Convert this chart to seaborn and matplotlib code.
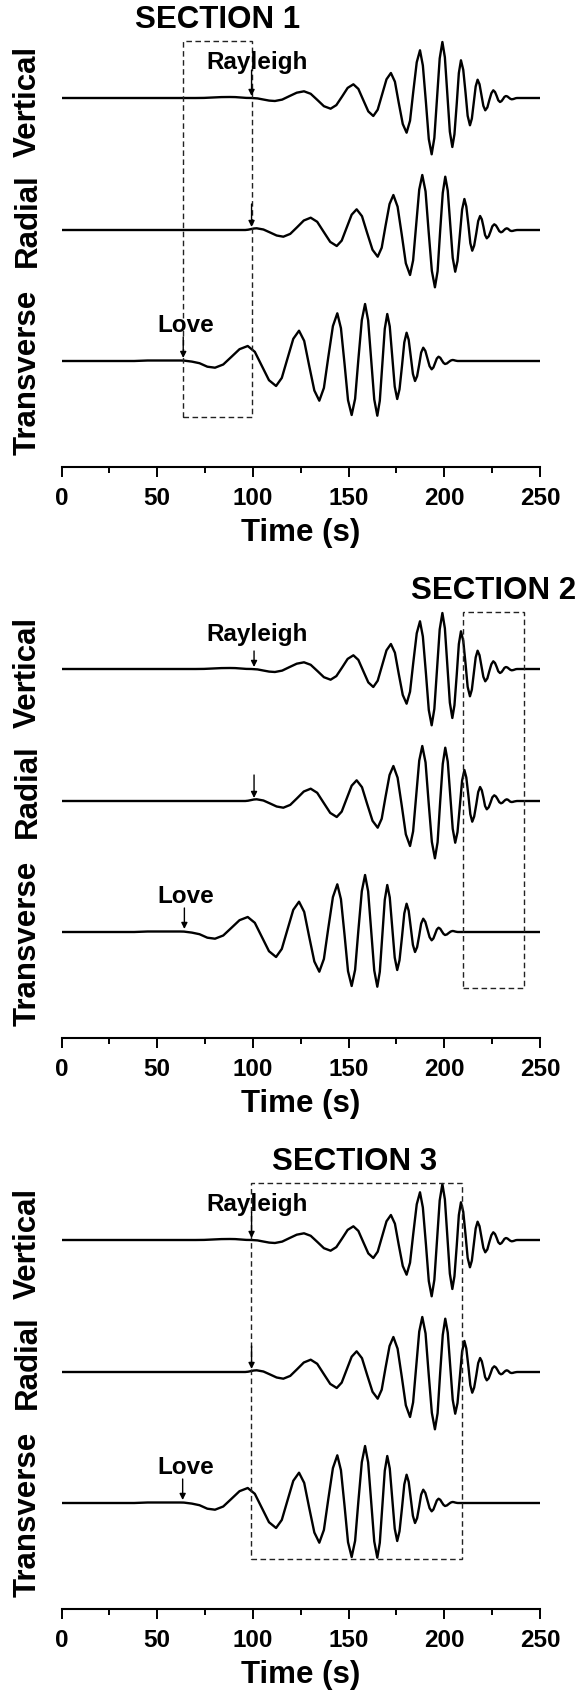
import numpy as np
import pandas as pd
import matplotlib
matplotlib.use("Agg")
import matplotlib.pyplot as plt
import seaborn as sns
from matplotlib.patches import Rectangle

sns.set_style("ticks")
plt.rcParams["font.family"] = ["Liberation Sans", "DejaVu Sans"]
plt.rcParams["font.weight"] = "bold"
plt.rcParams["lines.solid_joinstyle"] = "round"
plt.rcParams["lines.solid_capstyle"] = "round"
plt.rcParams["text.color"] = "black"
plt.rcParams["axes.labelcolor"] = "black"
plt.rcParams["axes.edgecolor"] = "black"
plt.rcParams["xtick.color"] = "black"

# ---------------- data ----------------
COMPONENTS = ["Vertical", "Radial", "Transverse"]

# Vertical component: time (s) and amplitude (px-like units)
V_TIME = [0, 70, 74.5, 79, 83.5, 88, 90.8, 93.7, 96.5, 99.3, 102.4, 105.4, 108.5, 111.5,
          115.3, 119.1, 122.9, 126.7, 130.2, 133.7, 137.1, 140.6, 143.6, 146.6, 149.5, 152.5,
          155.1, 157.7, 160.3, 162.9, 165.2, 167.5, 169.8, 172.1, 174.2, 176.2, 178.3, 180.3,
          182.1, 183.8, 185.6, 187.3, 188.8, 190.4, 191.9, 193.4, 194.8, 196.2, 197.6, 199.0,
          200.3, 201.6, 202.9, 204.2, 205.3, 206.5, 207.6, 208.7, 209.9, 211.1, 212.2, 213.4,
          214.4, 215.4, 216.4, 217.4, 218.4, 219.4, 220.4, 221.4, 222.5, 223.5, 224.6, 225.6,
          226.5, 227.4, 228.2, 229.1, 229.9, 230.7, 231.4, 232.2, 233.0, 233.7, 234.5, 235.2,
          235.9, 236.6, 237.3, 238, 250]
V_AMP = [0, 0, 0.1, 0.5, 0.9, 1, 0.9, 0.5, 0.1, 0, -0.4, -1.5, -2.6, -3,
         -1.6, 1.9, 5.3, 6.7, 4.2, -2.0, -8.2, -10.7, -7.1, 1.5, 10.1, 13.7,
         9.1, -2.2, -13.4, -18, -11.7, 3.5, 18.7, 25, 16.3, -4.9, -26.0, -34.7,
         -22.7, 6.5, 35.7, 47.7, 32.5, -4.3, -41.1, -56.3, -39.9, -0.2, 39.6, 56,
         40.7, 3.5, -33.7, -49, -36.3, -5.7, 25.0, 37.7, 28.2, 5.2, -17.8, -27.3,
         -20.6, -4.5, 11.6, 18.3, 13.8, 3.0, -7.8, -12.3, -9.4, -2.3, 4.8, 7.7,
         6.0, 1.9, -2.3, -4, -3.1, -1.0, 1.1, 2, 1.5, 0.4, -0.8, -1.3,
         -1.1, -0.7, -0.2, 0, 0]

# Radial component
R_TIME = [0, 96, 97.5, 99.0, 100.5, 102.0, 105.5, 109.0, 112.4, 115.9, 119.5, 123.1, 126.6,
          130.2, 133.6, 137.0, 140.4, 143.8, 146.4, 149.0, 151.6, 154.2, 157.0, 159.7, 162.5,
          165.2, 167.3, 169.3, 171.4, 173.4, 175.6, 177.8, 179.9, 182.1, 183.7, 185.3, 186.9,
          188.5, 190.2, 191.8, 193.5, 195.1, 196.5, 197.8, 199.2, 200.5, 201.8, 203.1, 204.4,
          205.7, 206.9, 208.1, 209.3, 210.5, 211.5, 212.6, 213.6, 214.6, 215.6, 216.7, 217.7,
          218.7, 219.6, 220.5, 221.3, 222.2, 223.2, 224.2, 225.1, 226.1, 227.0, 227.9, 228.7,
          229.6, 230.4, 231.1, 231.9, 232.6, 233.2, 233.8, 234.4, 235.0, 235.8, 236.5, 237.3,
          238.0, 250]
R_AMP = [0, 0, 0.3, 0.9, 1.5, 1.7, 0.5, -2.5, -5.5, -6.7, -3.9, 2.8, 9.5,
         12.3, 8.2, -1.9, -11.9, -16, -10.6, 2.4, 15.3, 20.7, 13.8, -3.0, -19.8,
         -26.7, -17.7, 4.2, 26.0, 35, 23.3, -5.0, -33.3, -45, -30.4, 5.0, 40.4,
         55, 38.6, -1.2, -40.9, -57.3, -41.2, -2.0, 37.1, 53.3, 39.4, 5.8, -27.8,
         -41.7, -31.1, -5.4, 20.4, 31, 23.5, 5.2, -13.2, -20.7, -15.6, -3.4, 8.9,
         14, 10.7, 2.9, -5.0, -8.3, -6.3, -1.3, 3.7, 5.7, 4.5, 1.7, -1.1,
         -2.3, -1.7, -0.3, 1.1, 1.7, 1.3, 0.4, -0.6, -1.0, -0.9, -0.5, -0.2,
         0, 0]

# Transverse component
T_TIME = [0, 38, 45, 62, 64, 68.1, 72.1, 76.2, 80.2, 84.5, 88.8, 93.0, 97.3, 101.0, 104.7,
          108.4, 112.1, 115.1, 118.1, 121.1, 124.1, 126.8, 129.4, 132.1, 134.7, 137.1, 139.4,
          141.8, 144.1, 146.0, 147.9, 149.7, 151.6, 153.4, 155.1, 156.9, 158.6, 160.2, 161.8,
          163.4, 165.0, 166.3, 167.6, 168.9, 170.2, 171.5, 172.8, 174.1, 175.4, 176.6, 177.9,
          179.1, 180.3, 181.4, 182.5, 183.6, 184.7, 185.8, 186.9, 187.9, 189.0, 190.1, 191.2,
          192.3, 193.4, 194.3, 195.2, 196.1, 197.0, 197.9, 198.7, 199.6, 200.4, 201.4, 202.3,
          203.3, 204.2, 204.9, 205.6, 206.3, 207.0, 250]
T_AMP = [0, 0, 0.5, 0.5, 0.4, -0.6, -2.2, -5.7, -6.7, -3.5, 4.2, 11.8, 15, 9.2, -5.0,
         -19.2, -25, -16.9, 2.7, 22.2, 30.3, 20.1, -4.7, -29.5, -39.7, -26.9, 4.0,
         34.9, 47.7, 32.8, -3.2, -39.2, -54, -37.8, 1.5, 40.8, 57, 40.7, 1.2,
         -38.4, -54.7, -39.8, -3.9, 32.2, 47, 34.6, 4.5, -25.6, -38, -28.3, -4.9,
         18.6, 28.3, 21.2, 4.2, -12.9, -20, -15.1, -3.4, 8.4, 13.3, 10.1, 2.5,
         -5.1, -8.3, -6.5, -2.0, 2.5, 4.3, 3.2, 0.7, -1.9, -3, -2.4, -1.0,
         0.4, 1, 0.9, 0.5, 0.2, 0, 0]

SECTION_TITLES = ["SECTION 1", "SECTION 2", "SECTION 3"]
SECTION_WINDOWS = [(63.6, 99.6), (209.9, 241.8), (99.2, 209.1)]   # time windows (s)
RAYLEIGH_ONSET = [99.3, 100.6, 99.3]
LOVE_ONSET = [63.6, 64.2, 63.3]
TIME_TICKS = [0, 50, 100, 150, 200, 250]
TIME_MINOR = [25, 75, 125, 175, 225]

# ---------------- layout (pixels) ----------------
FIG_W, FIG_H, DPI = 584, 1692, 100
AX_L, AX_R = 61.5, 540.0
PANEL_STEP = 571
AX_H = 467
BASE = {"Vertical": 98, "Radial": 230, "Transverse": 361}
TITLE_X = [81.5, 225.7, 153.1]

frames = []
for comp, t, a in zip(COMPONENTS, [V_TIME, R_TIME, T_TIME], [V_AMP, R_AMP, T_AMP]):
    frames.append(pd.DataFrame({"time": t, "amp": a, "component": comp}))
df = pd.concat(frames, ignore_index=True)
df["y"] = -df["component"].map(BASE) + df["amp"]

fig = plt.figure(figsize=(FIG_W / DPI, FIG_H / DPI), dpi=DPI)

for k in range(3):
    top = k * PANEL_STEP
    ax = fig.add_axes([AX_L / FIG_W, 1 - (top + AX_H) / FIG_H,
                       (AX_R - AX_L) / FIG_W, AX_H / FIG_H])
    sns.lineplot(data=df, x="time", y="y", units="component", estimator=None,
                 sort=False, color="black", lw=1.7, ax=ax, legend=False)
    ax.set_xlim(0, 250)
    ax.set_ylim(-AX_H, 0)

    for s in ["left", "top", "right"]:
        ax.spines[s].set_visible(False)
    ax.spines["bottom"].set_linewidth(1.5)
    ax.spines["bottom"].set_color("black")
    ax.set_yticks([])
    ax.set_ylabel("")
    ax.set_xticks(TIME_TICKS)
    ax.set_xticks(TIME_MINOR, minor=True)
    ax.tick_params(axis="x", which="major", length=7.2, width=1.4, direction="out",
                   labelsize=17.5, pad=7.5, colors="black")
    ax.tick_params(axis="x", which="minor", length=4.3, width=1.4, direction="out",
                   colors="black")
    for lbl in ax.get_xticklabels():
        lbl.set_fontweight("bold")
    ax.set_xlabel("Time (s)", fontsize=22.5, fontweight="bold", color="black")
    ax.xaxis.label.set_va("center")
    ax.xaxis.set_label_coords(0.5, -(533 - AX_H) / AX_H)

    # section window box
    t0, t1 = SECTION_WINDOWS[k]
    ax.add_patch(Rectangle((t0, -417.3), t1 - t0, 417.3 - 40.7, fill=False,
                           ls=(0, (4, 2.5)), lw=1.0, ec="#222222", clip_on=False, zorder=3))

    # title
    ax.text(TITLE_X[k], -20, SECTION_TITLES[k], ha="center", va="center",
            fontsize=22.5, fontweight="bold", color="black", clip_on=False)

    # component labels
    for comp, yc in zip(COMPONENTS, [101, 220, 372]):
        ax.text(-17.5, -yc, comp, rotation=90, ha="center", va="center",
                fontsize=22.5, fontweight="bold", color="black", clip_on=False)

    # arrivals
    arr = dict(arrowstyle="-|>", color="black", lw=1.0, shrinkA=0, shrinkB=0,
               mutation_scale=9)
    tr = RAYLEIGH_ONSET[k]
    tail_v = 80 if k == 1 else 70
    ax.annotate("", xy=(tr, -96), xytext=(tr, -tail_v), arrowprops=arr,
                annotation_clip=False)
    ax.annotate("", xy=(tr, -227), xytext=(tr, -204), arrowprops=arr,
                annotation_clip=False)
    ax.text(102, -63, "Rayleigh", ha="center", va="center", fontsize=17.5,
            fontweight="bold", color="black", clip_on=False)
    tl = LOVE_ONSET[k]
    ax.annotate("", xy=(tl, -358), xytext=(tl, -337), arrowprops=arr,
                annotation_clip=False)
    ax.text(64.8, -325, "Love", ha="center", va="center", fontsize=17.5,
            fontweight="bold", color="black", clip_on=False)

fig.savefig("out.png", dpi=DPI)
